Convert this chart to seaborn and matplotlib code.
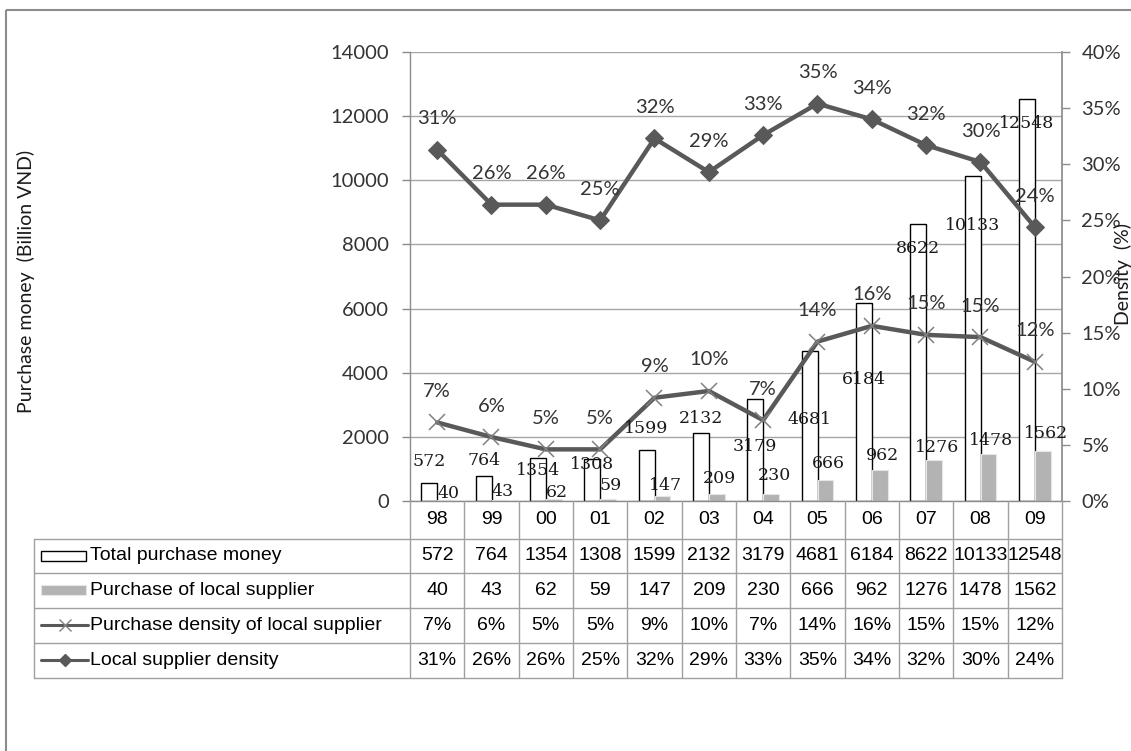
import matplotlib
matplotlib.use('Agg')
import matplotlib.pyplot as plt
from matplotlib.lines import Line2D
from matplotlib.patches import Rectangle
import numpy as np
import pandas as pd
import seaborn as sns

# Dados
years = ['98', '99', '00', '01', '02', '03', '04', '05', '06', '07', '08', '09']
total_purchase = [572, 764, 1354, 1308, 1599, 2132, 3179, 4681, 6184, 8622, 10133, 12548]
local_purchase = [40, 43, 62, 59, 147, 209, 230, 666, 962, 1276, 1478, 1562]
purchase_density = [7.0, 5.7, 4.6, 4.6, 9.2, 9.8, 7.2, 14.2, 15.6, 14.8, 14.6, 12.4]
supplier_density = [31.3, 26.4, 26.4, 25.0, 32.3, 29.3, 32.6, 35.4, 34.0, 31.7, 30.2, 24.4]
series_names = ['Total purchase money', 'Purchase of local supplier',
                'Purchase density of local supplier', 'Local supplier density']

# posicoes dos rotulos (pixels, positivo = para baixo) -- estilo, nao dados
total_label_dy = [-21, -16, 13, 5, -21, -14, 47, 69, 77, 24, 49, 25]
local_label_dy = [-6, -8, -7, -14, -11, -16, -18, -16, -15, -13, -13, -17]

W, H = 1131, 751
LINE = '#595959'
XMARK = '#808080'
BAR_GRAY = '#b3b3b3'
GRID = '#a6a6a6'
SPINE = '#8c8c8c'
CAL = ['Lato', 'DejaVu Sans']
ARIAL = ['Liberation Sans', 'DejaVu Sans']

sns.set_theme(style='white')
plt.rcParams['font.family'] = CAL

fig = plt.figure(figsize=(W / 100, H / 100), dpi=100)
ax = fig.add_axes([410 / W, 1 - 501 / H, 652 / W, 449 / H])

bars_df = pd.DataFrame({
    'year': years * 2,
    'value': total_purchase + local_purchase,
    'series': [series_names[0]] * len(years) + [series_names[1]] * len(years),
})
sns.barplot(data=bars_df, x='year', y='value', hue='series', order=years,
            hue_order=series_names[:2], palette=['white', BAR_GRAY],
            width=0.58, gap=0, saturation=1, legend=False, ax=ax)
for p in ax.containers[0].patches:
    p.set_edgecolor('black')
    p.set_linewidth(1.0)
for p in ax.containers[1].patches:
    p.set_edgecolor('#e6e6e6')
    p.set_linewidth(0.8)

ax.set_xlim(-0.5, len(years) - 0.5)
ax.set_ylim(0, 14000)
ax.set_yticks(np.arange(0, 14001, 2000))
ax.yaxis.grid(True, color=GRID, lw=1)
ax.set_axisbelow(True)
ax.set_xlabel('')
ax.set_ylabel('')
ax.set_xticks([])
for s in ['top', 'right']:
    ax.spines[s].set_visible(False)
for s in ['left', 'bottom']:
    ax.spines[s].set_color(SPINE)
    ax.spines[s].set_linewidth(1)
ax.tick_params(axis='y', direction='out', left=True, length=6, width=1, color=SPINE,
               pad=9, labelsize=14.5, labelcolor='#333333')

ax2 = ax.twinx()
xpos = np.arange(len(years))
sns.lineplot(x=xpos, y=purchase_density, ax=ax2, color=LINE, lw=3.2, marker='x',
             markersize=12, markeredgecolor=XMARK, markeredgewidth=1.1)
sns.lineplot(x=xpos, y=supplier_density, ax=ax2, color=LINE, lw=3.2, marker='D',
             markersize=9, markeredgecolor=LINE, markerfacecolor=LINE)
ax2.set_ylim(0, 40)
ax2.set_yticks(np.arange(0, 41, 5))
ax2.set_yticklabels([f'{t}%' for t in range(0, 41, 5)])
ax2.set_xlim(-0.5, len(years) - 0.5)
ax2.set_ylabel('')
for s in ['top', 'left', 'bottom']:
    ax2.spines[s].set_visible(False)
ax2.spines['right'].set_color(SPINE)
ax2.tick_params(axis='y', direction='out', right=True, length=6, width=1, color=SPINE,
                pad=8, labelsize=14.5, labelcolor='#333333')
ax2.grid(False)

# rotulos de dados
for p, v, dy in zip(ax.containers[0].patches, total_purchase, total_label_dy):
    ax2.annotate(str(v), xy=(p.get_x() + p.get_width() / 2, v), xycoords=ax.transData,
                 xytext=(0, -dy), textcoords='offset pixels', ha='center', va='center',
                 fontsize=12.5, family='DejaVu Serif', color='#1a1a1a')
for p, v, dy in zip(ax.containers[1].patches, local_purchase, local_label_dy):
    ax2.annotate(str(v), xy=(p.get_x() + p.get_width() / 2, v), xycoords=ax.transData,
                 xytext=(3, -dy), textcoords='offset pixels', ha='center', va='center',
                 fontsize=12.5, family='DejaVu Serif', color='#1a1a1a')
for series in (purchase_density, supplier_density):
    for x, v in zip(xpos, series):
        ax2.annotate(f'{v:.0f}%', xy=(x, v), xytext=(0, 31), textcoords='offset pixels',
                     ha='center', va='center', fontsize=14.5, color='#333333')

# titulos dos eixos
fig.text(26 / W, 1 - 281 / H, 'Purchase money  (Billion VND)', rotation=90,
         ha='center', va='center', fontsize=14, color='#1a1a1a')
fig.text(1123 / W, 1 - 274 / H, 'Density  (%)', rotation=90,
         ha='center', va='center', fontsize=14, color='#1a1a1a')

# tabela de dados (coordenadas em pixels)
tax = fig.add_axes([0, 0, 1, 1], facecolor='none')
tax.set_xlim(0, W)
tax.set_ylim(H, 0)
tax.axis('off')

x0, x_left, x_right = 34, 410, 1062
unit = (x_right - x_left) / len(years)
rows = [501, 538.5, 573, 607.7, 642.7, 677.5]
tcol = '#a0a0a0'
for y in rows[1:]:
    tax.plot([x0, x_right], [y, y], color=tcol, lw=1)
tax.plot([x0, x0], [rows[1], rows[-1]], color=tcol, lw=1)
for i in range(len(years) + 1):
    xv = x_left + i * unit
    tax.plot([xv, xv], [rows[0], rows[-1]], color=tcol, lw=1)

row_texts = [
    years,
    [str(v) for v in total_purchase],
    [str(v) for v in local_purchase],
    [f'{v:.0f}%' for v in purchase_density],
    [f'{v:.0f}%' for v in supplier_density],
]
for r, texts in enumerate(row_texts):
    yc = (rows[r] + rows[r + 1]) / 2
    for i, t in enumerate(texts):
        tax.text(x_left + (i + 0.5) * unit, yc, t, ha='center', va='center',
                 fontsize=14, family=ARIAL, color='black')

# legenda dentro da tabela
for r, name in enumerate(series_names):
    yc = (rows[r + 1] + rows[r + 2]) / 2
    tax.text(90, yc, name, ha='left', va='center', fontsize=14, family=ARIAL, color='black')
yc = [(rows[r + 1] + rows[r + 2]) / 2 for r in range(4)]
tax.add_patch(Rectangle((41, yc[0] - 5), 45, 10, facecolor='white', edgecolor='black', lw=1))
tax.add_patch(Rectangle((41, yc[1] - 5), 45, 10, facecolor=BAR_GRAY, edgecolor='#e6e6e6', lw=0.8))
tax.add_line(Line2D([41, 88], [yc[2], yc[2]], color=LINE, lw=2.2))
tax.add_line(Line2D([64.5], [yc[2]], marker='x', markersize=9, color=XMARK, mew=1, ls='none'))
tax.add_line(Line2D([41, 88], [yc[3], yc[3]], color=LINE, lw=2.2))
tax.add_line(Line2D([64.5], [yc[3]], marker='D', markersize=6, color=LINE, ls='none'))

# moldura externa
tax.add_patch(Rectangle((6, 10), 1200, 800, facecolor='none', edgecolor=SPINE, lw=1.5,
                        clip_on=False))

fig.savefig('out.png', dpi=100)
